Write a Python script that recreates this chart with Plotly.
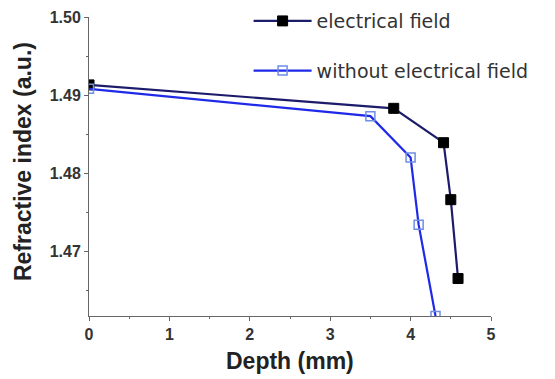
import plotly.graph_objects as go

depth_field = [0.0, 3.79, 4.41, 4.50, 4.59]
index_field = [1.4913, 1.4883, 1.4839, 1.4766, 1.4665]
depth_nofield = [0.0, 3.50, 4.00, 4.10, 4.31]
index_nofield = [1.4908, 1.4873, 1.4820, 1.4734, 1.4617]

x_title = "Depth (mm)"
y_title = "Refractive index (a.u.)"

fig = go.Figure()
fig.add_trace(go.Scatter(
    x=depth_field, y=index_field, mode="lines+markers", name="electrical field",
    legendgroup="a",
    line=dict(color="#1c1c6b", width=2.2),
    marker=dict(symbol="square", size=10, color="#000000", line=dict(color="#000000", width=1)),
))
fig.add_trace(go.Scatter(
    x=depth_nofield, y=index_nofield, mode="lines+markers", name="without electrical field",
    legendgroup="b",
    line=dict(color="#1f2ae8", width=2.2),
    marker=dict(symbol="square-open", size=9, color="#6f8ee6", line=dict(width=1.5)),
))

# page body has an 8px margin, so the figure is drawn 8px in from the top-left
tick_font = dict(family="Liberation Sans, Arial", size=16, color="#333333", weight="bold")
title_font = dict(family="Liberation Sans, Arial", size=23, color="#222222")
fig.update_layout(
    width=547, height=371,
    margin=dict(l=81, r=64, t=9, b=63, autoexpand=False),
    paper_bgcolor="white", plot_bgcolor="white",
    showlegend=True,
    legend=dict(x=0.397, y=1.05, xref="paper", yref="paper", xanchor="left", yanchor="top",
                font=dict(family="DejaVu Sans", size=19, color="#333333"),
                bgcolor="rgba(0,0,0,0)", itemwidth=58, tracegroupgap=22),
    xaxis=dict(range=[0, 5], dtick=1, showgrid=False, zeroline=False, automargin=False,
               showline=True, linecolor="#666666", linewidth=1,
               ticks="outside", ticklen=4, tickcolor="#666666",
               minor=dict(dtick=0.5, ticks="outside", ticklen=2, tickcolor="#666666"),
               tickfont=tick_font),
    yaxis=dict(range=[1.4617, 1.50], tickvals=[1.47, 1.48, 1.49, 1.50],
               ticktext=["1.47", "1.48", "1.49", "1.50"],
               showgrid=False, zeroline=False, automargin=False,
               showline=True, linecolor="#666666", linewidth=1,
               ticks="outside", ticklen=4, tickcolor="#666666",
               minor=dict(tickvals=[1.465, 1.475, 1.485, 1.495], ticks="outside", ticklen=2, tickcolor="#666666"),
               tickfont=tick_font),
)
fig.add_annotation(text="<b>" + y_title + "</b>", xref="paper", yref="paper",
                   x=-0.164, y=0.515, textangle=-90, showarrow=False,
                   xanchor="center", yanchor="middle", font=title_font)
fig.add_annotation(text="<b>" + x_title + "</b>", xref="paper", yref="paper",
                   x=0.5, y=-0.152, showarrow=False,
                   xanchor="center", yanchor="middle", font=title_font)
fig.write_html("out.html")
